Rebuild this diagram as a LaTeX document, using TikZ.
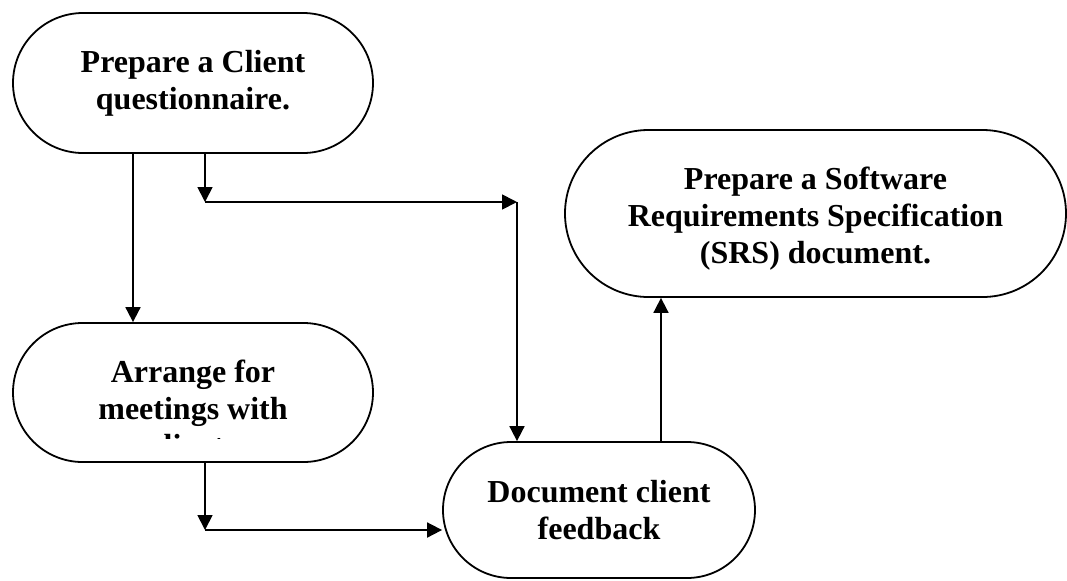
\documentclass[tikz,border=0pt]{standalone}
\usepackage{fontspec}
\setmainfont{Liberation Serif}
\usetikzlibrary{arrows.meta,calc}
\begin{document}
\begin{tikzpicture}[x=0.5pt,y=-0.5pt,line cap=butt,line join=round,line width=0.9pt,>={Triangle[length=7.5pt,width=7.5pt]},
	font=\fontsize{16pt}{18.4pt}\selectfont\bfseries,
	stadium/.style={draw,rectangle,inner sep=0pt,align=center},
	txt/.style={inner sep=0pt,align=center}]
			\useasboundingbox (0,0) rectangle (1067,580);
			\node[stadium,minimum width=180pt,minimum height=70pt,rounded corners=35pt] (client) at (193,83) {Prepare a Client\\questionnaire.};
			\node[stadium,minimum width=180pt,minimum height=69.5pt,rounded corners=34.75pt] (arrange) at (193,392.5) {};
			\node[stadium,minimum width=250.5pt,minimum height=83.5pt,rounded corners=41.75pt] (srs) at (815.5,213.5) {};
			\node[stadium,minimum width=156pt,minimum height=68pt,rounded corners=34pt] (feedback) at (599,510) {Document client\\feedback};
			\node[txt] (srstext) at ([yshift=-2.5pt]srs.center) {Prepare a Software\\Requirements Specification\\(SRS) document.};
			\begin{scope}
				\clip (15,325) rectangle (371,438);
				\node[txt] (arrangetext) at ([yshift=-8pt]arrange.center) {Arrange for\\meetings with\\clients};
			\end{scope}
			\coordinate (bendA) at (205,202);
			\coordinate (bendB) at (517,202);
			\coordinate (bendC) at (205,530);
			\draw[->] ([xshift=-30pt]client.south) -- ([xshift=-30pt]arrange.north);
			\draw[->] ([xshift=6pt]client.south) -- (bendA);
			\draw[->] (bendA) -- (bendB);
			\draw[->] (bendB) -- ([xshift=-41pt]feedback.north);
			\draw[->] ([xshift=6pt]arrange.south) -- (bendC);
			\draw[->] (bendC) -- (bendC -| feedback.west);
			\draw[->] ([xshift=31pt]feedback.north) -- ([xshift=31pt]feedback.north |- srs.south);
		\end{tikzpicture}
\end{document}
